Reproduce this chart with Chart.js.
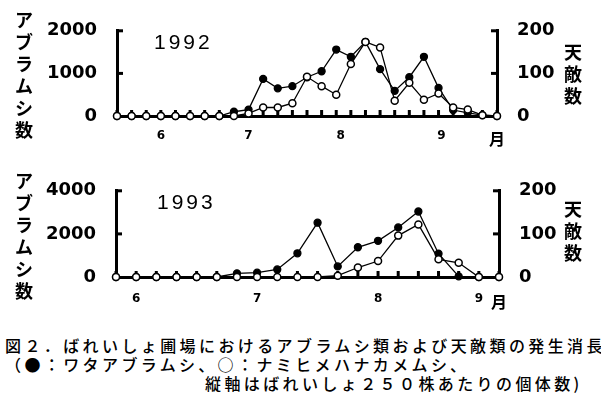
<!DOCTYPE html>
<html>
<head>
<meta charset="utf-8">
<script src="https://cdn.jsdelivr.net/npm/chart.js@4.4.0/dist/chart.umd.min.js"></script>
<style>
body { margin: 0; background: #fff; width: 601px; height: 396px; position: relative; overflow: hidden; font-family: "Noto Sans CJK JP", sans-serif; }
canvas { position: absolute; left: 0; }
.vt { position: absolute; font-weight: 700; font-size: 18px; line-height: 22px; width: 24px; text-align: center; }
.yr { position: absolute; font-family: "Liberation Sans", sans-serif; font-size: 21px; letter-spacing: 3px; line-height: 21px; }
.cap { position: absolute; font-size: 16px; font-weight: 500; letter-spacing: 3.4px; white-space: nowrap; line-height: 18px; }
</style>
</head>
<body>
<canvas id="c92" width="601" height="160" style="top:0"></canvas>
<canvas id="c93" width="601" height="160" style="top:160px"></canvas>

<div class="vt" style="left:12px;top:8px">ア<br>ブ<br>ラ<br>ム<br>シ<br>数</div>
<div class="vt" style="left:561px;top:40px">天<br>敵<br>数</div>
<div class="yr" style="left:154px;top:31px">1992</div>

<div class="vt" style="left:12px;top:169px">ア<br>ブ<br>ラ<br>ム<br>シ<br>数</div>
<div class="vt" style="left:561px;top:197px">天<br>敵<br>数</div>
<div class="yr" style="left:157px;top:191px">1993</div>

<div class="cap" style="left:5px;top:336px">図２．ばれいしょ圃場におけるアブラムシ類および天敵類の発生消長</div>
<div class="cap" style="left:5px;top:355px">（●：ワタアブラムシ、○：ナミヒメハナカメムシ、</div>
<div class="cap" style="left:205px;top:374px">縦軸はばれいしょ２５０株あたりの個体数)</div>

<script>
// 1992: aphids (filled, left axis) and natural enemies (open, right axis), per sampling date
const aphids92  = [0, 0, 0, 0, 0, 0, 0, 0, 100, 150, 870, 650, 700, 910, 1050, 1560, 1390, 1740, 1100, 590, 910, 1390, 660, 140, 75, 20, 0];
const enemies92 = [0, 0, 0, 0, 0, 0, 0, 0, 0, 6, 20, 20, 30, 92, 70, 50, 122, 174, 161, 36, 78, 38, 53, 20, 15, 2, 0];

// 1993
const aphids93  = [0, 0, 0, 0, 0, 0, 170, 200, 350, 1100, 2520, 490, 1380, 1680, 2300, 3040, 1080, 30, 0, 0];
const enemies93 = [0, 0, 0, 0, 0, 0, 0, 0, 0, 0, 0, 3, 22, 37, 96, 122, 41, 33, 0, 0];

// month labels and where they sit along the sampling index
const monthLabels = ['6', '7', '8', '9', '月'];
const monthPos92 = [3, 9, 15.3, 22.2, 26];
const monthPos93 = [1, 7, 13, 18, 19];

const leftTicks92 = [0, 1000, 2000];
const leftTicks93 = [0, 2000, 4000];
const rightTicks = [0, 100, 200];

// small tick marks drawn on the inside of the axes
const innerTicks = {
  id: 'innerTicks',
  beforeDatasetsDraw(chart) {
    const { ctx, chartArea: a, scales } = chart;
    ctx.save();
    ctx.fillStyle = '#000';
    scales.y.ticks.forEach(t => {
      if (t.value > 0) ctx.fillRect(a.left, scales.y.getPixelForValue(t.value) - 1.5, 6, 3);
    });
    scales.y2.ticks.forEach(t => {
      if (t.value > 0) ctx.fillRect(a.right - 6, scales.y2.getPixelForValue(t.value) - 1.5, 6, 3);
    });
    for (let i = 0; i <= scales.x.max; i++) {
      const x = scales.x.getPixelForValue(i);
      ctx.fillRect(x - 1.5, a.bottom - 6, 3, 6);
    }
    ctx.restore();
  }
};

function makeChart(id, aphids, enemies, leftTicks, monthPos, box) {
  const numFont = { family: 'DejaVu Sans', weight: 'bold', size: 18 };
  const xMax = aphids.length - 1;
  return new Chart(document.getElementById(id), {
    type: 'line',
    data: {
      datasets: [
        {
          data: enemies.map((v, i) => ({ x: i, y: v })),
          yAxisID: 'y2',
          borderColor: '#000',
          borderWidth: 1.3,
          pointRadius: 3.5,
          pointBackgroundColor: '#fff',
          pointBorderColor: '#000',
          pointBorderWidth: 1.5,
          clip: false
        },
        {
          data: aphids.map((v, i) => ({ x: i, y: v })),
          yAxisID: 'y',
          borderColor: '#000',
          borderWidth: 1.3,
          pointRadius: 3.5,
          pointBackgroundColor: '#000',
          pointBorderColor: '#000',
          clip: false
        }
      ]
    },
    options: {
      responsive: false,
      animation: false,
      layout: { padding: { top: box.top, left: 0, right: 0, bottom: 0 } },
      plugins: { legend: { display: false }, tooltip: { enabled: false } },
      scales: {
        x: {
          type: 'linear',
          min: 0,
          max: xMax,
          grid: { display: false, drawTicks: false },
          border: { display: true, color: '#000', width: 3 },
          afterBuildTicks: s => { s.ticks = monthPos.map(v => ({ value: v })); },
          afterFit: s => { s.height = box.xh; },
          ticks: {
            autoSkip: false,
            maxRotation: 0,
            padding: box.xpad,
            color: '#000',
            callback: (v, i) => monthLabels[i],
            font: c => (c.tick && c.tick.value === xMax)
              ? { family: 'Noto Sans CJK JP', weight: 'bold', size: 16 }
              : { family: 'DejaVu Sans', weight: 'bold', size: 12 }
          }
        },
        y: {
          position: 'left',
          min: 0,
          max: leftTicks[leftTicks.length - 1],
          grid: { display: false, drawTicks: false },
          border: { display: true, color: '#000', width: 3 },
          afterBuildTicks: s => { s.ticks = leftTicks.map(v => ({ value: v })); },
          afterFit: s => { s.width = box.left; },
          ticks: { padding: 20, color: '#000', font: numFont, callback: v => String(v) }
        },
        y2: {
          position: 'right',
          min: 0,
          max: 200,
          grid: { display: false, drawTicks: false },
          border: { display: true, color: '#000', width: 3 },
          afterBuildTicks: s => { s.ticks = rightTicks.map(v => ({ value: v })); },
          afterFit: s => { s.width = box.right; },
          ticks: { padding: 20, color: '#000', font: numFont, callback: v => String(v) }
        }
      }
    },
    plugins: [innerTicks]
  });
}

makeChart('c92', aphids92, enemies92, leftTicks92, monthPos92, { top: 28, xh: 44, xpad: 13, left: 117, right: 104 });
makeChart('c93', aphids93, enemies93, leftTicks93, monthPos93, { top: 25, xh: 43, xpad: 15, left: 116, right: 102 });
</script>
</body>
</html>
